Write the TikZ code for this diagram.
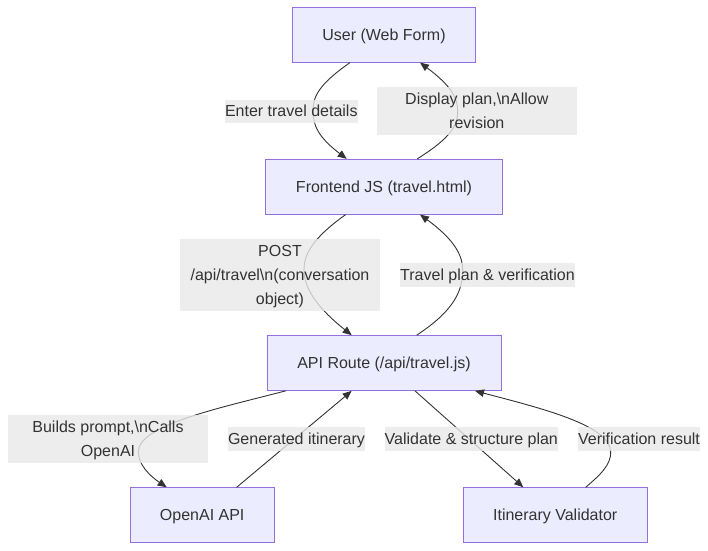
\documentclass[tikz,border=0pt]{standalone}
\usepackage{fontspec}
\setmainfont{Liberation Sans}
\usetikzlibrary{arrows.meta}
\definecolor{nodefill}{HTML}{ECECFF}
\definecolor{nodeline}{HTML}{9370DB}
\definecolor{labelbg}{HTML}{E8E8E8}
\definecolor{ink}{HTML}{333333}
\tikzset{
  box/.style={draw=nodeline, fill=nodefill, line width=1pt, inner sep=0pt, text=ink,
    font=\fontsize{16}{24}\selectfont, align=center, text depth=0.5pt},
  lbl/.style={fill=labelbg, fill opacity=0.8, text opacity=1, inner sep=0pt, text=ink,
    font=\fontsize{16}{24}\selectfont, align=center, text depth=0.5pt},
  edge/.style={draw=ink, line width=0.9pt, -{Triangle[length=9pt,width=7.5pt]}}
}
\begin{document}
\begin{tikzpicture}[x=1pt,y=-1pt]
\useasboundingbox (0,0) rectangle (708,550);
% nodes
\node[box, minimum width=183.7pt, minimum height=54.7pt] (user) at (384,34.7) {User (Web Form)};
\node[box, minimum width=236.6pt, minimum height=54.7pt] (front) at (384,186.7) {Frontend JS (travel.html)};
\node[box, minimum width=234pt, minimum height=54.7pt] (api) at (384,363) {API Route (/api/travel.js)};
\node[box, minimum width=143.7pt, minimum height=54.5pt] (openai) at (202.2,515) {OpenAI API};
\node[box, minimum width=184.3pt, minimum height=54.5pt] (valid) at (555.2,515) {Itinerary Validator};
% edges
\draw[edge] ([xshift=-34]user.south) .. controls (318,85) and (313,97) .. (313,111)
  .. controls (313,125) and (318,137) .. ([xshift=-37.3]front.north);
\draw[edge] ([xshift=33.3]front.north) .. controls (452,137) and (457.7,125) .. (457.7,111)
  .. controls (457.7,97) and (450,85) .. ([xshift=36]user.south);
\draw[edge] ([xshift=-38.3]front.south) .. controls (310,240) and (304,256) .. (304,270)
  .. controls (304,290) and (320,310) .. ([xshift=-32.3]api.north);
\draw[edge] ([xshift=32.7]api.north) .. controls (455,310) and (462.7,290) .. (462.7,270)
  .. controls (462.7,256) and (455,240) .. ([xshift=36]front.south);
\draw[edge] ([xshift=-98.3]api.south) .. controls (220,408) and (138,425) .. (138.3,452)
  .. controls (138.5,465) and (150,476) .. ([xshift=-35.5]openai.north);
\draw[edge] ([xshift=34.5]openai.north) -- ([xshift=-32.3]api.south);
\draw[edge] ([xshift=31]api.south) -- ([xshift=-31.9]valid.north);
\draw[edge] ([xshift=30.5]valid.north) .. controls (600,475) and (611,465) .. (610.7,452)
  .. controls (610.5,425) and (540,408) .. ([xshift=91]api.south);
% labels
\node[lbl, minimum width=132.7pt, minimum height=23pt] (l1) at (291.3,111.3) {Enter travel details};
\node[lbl, minimum width=199.7pt, minimum height=47.3pt] (l2) at (476.8,111) {Display plan,\textbackslash nAllow\\revision};
\node[lbl, minimum width=200pt, minimum height=71.7pt] (l3) at (280,274.8) {POST\\/api/travel\textbackslash n(conversation\\object)};
\node[lbl, minimum width=175pt, minimum height=24pt] (l4) at (487.5,274.7) {Travel plan \& verification};
\node[lbl, minimum width=200pt, minimum height=47.7pt] (l5) at (108,438.8) {Builds prompt,\textbackslash nCalls\\OpenAI};
\node[lbl, minimum width=137pt, minimum height=24pt] (l6) at (296.5,438.7) {Generated itinerary};
\node[lbl, minimum width=172.7pt, minimum height=24pt] (l7) at (471.3,438.7) {Validate \& structure plan};
\node[lbl, minimum width=122pt, minimum height=24pt] (l8) at (639,438.7) {Verification result};
\end{tikzpicture}
\end{document}
